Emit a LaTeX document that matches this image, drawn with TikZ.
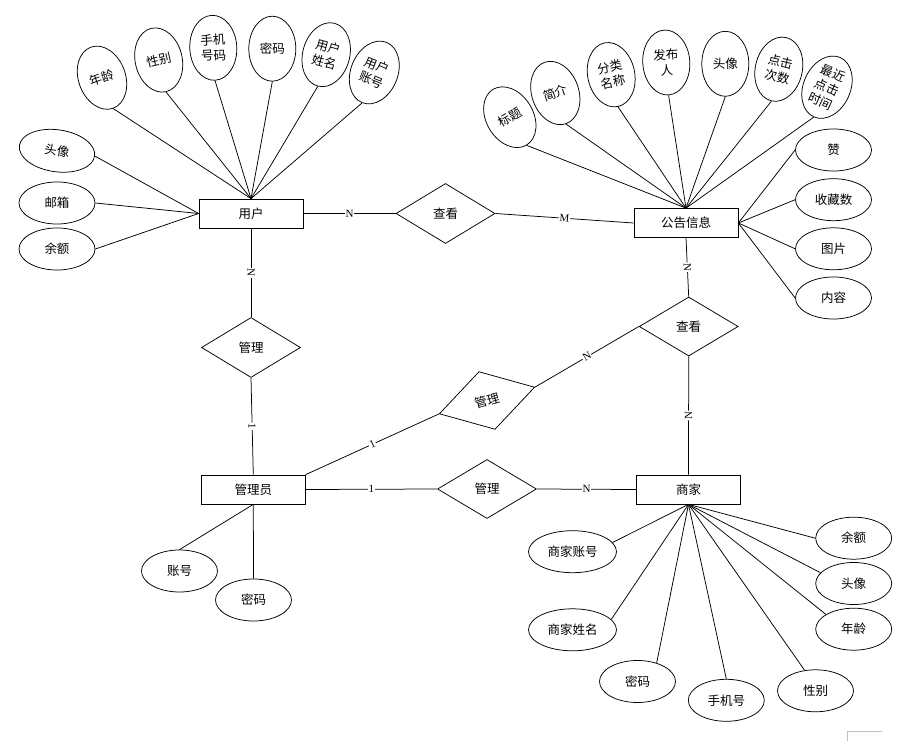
\documentclass[tikz,border=0pt]{standalone}
\usepackage{fontspec}
\setmainfont{Liberation Serif}
\newfontfamily\cjk{Noto Sans CJK SC}
\usepackage{tikz}
\usetikzlibrary{shapes.geometric}
\newcommand{\erfont}{\cjk\fontsize{12.5}{15.5}\selectfont}

\begin{document}
\begin{tikzpicture}[x=1pt, y=-1pt, line width=0.75pt, font=\erfont,
  entity/.style={draw, rectangle, minimum width=104pt, minimum height=29pt, inner sep=0pt},
  relation/.style={draw, diamond, minimum width=99pt, minimum height=60pt, inner sep=0pt},
  attrtall/.style={draw, ellipse, minimum width=47pt, minimum height=65pt, inner sep=0pt, align=center},
  attrwide/.style={draw, ellipse, minimum width=76pt, minimum height=42pt, inner sep=0pt},
  card/.style={fill=white, inner sep=0.8pt, font=\rmfamily\fontsize{11}{11}\selectfont}]
  \useasboundingbox (0,0) rectangle (914,741);
  % entities
  \node[entity] (yonghu) at (251,213.5) {用户};
  \node[entity] (gonggao) at (686,223) {公告信息};
  \node[entity] (guanliyuan) at (253.3,489.5) {管理员};
  \node[entity] (shangjia) at (688.5,489.5) {商家};
  % relationships
  \node[relation] (chakanA) at (445.5,213.5) {查看};
  \node[relation] (guanliA) at (251,347.5) {管理};
  \node[relation, rotate=15.6] (guanliB) at (487,400.5) {管理};
  \node[relation, minimum height=59pt] (guanliC) at (487,489) {管理};
  \node[relation, minimum height=59pt] (chakanB) at (688.7,326.5) {查看};
  % attributes of the user
  \foreach \n/\x/\y/\ang/\txt in {ua/102/77.7/20/年龄, ub/158.7/60/13/性别,
      uc/213.3/47.8/3/{手机\\号码}, ud/272.3/48.7/0/密码,
      ue/326.2/54.7/-15/{用户\\姓名}, uf/374.3/72.5/-22/{用户\\账号}} {
    \node[attrtall, rotate=\ang] (\n) at (\x,\y) {\txt};
    \draw (yonghu.north) -- (\n.south);
  }
  \foreach \n/\y/\ang/\txt in {uh/150.8/-8/头像, ui/203/0/邮箱, uj/249/0/余额} {
    \node[attrwide, rotate=\ang] (\n) at (57,\y) {\txt};
    \draw (yonghu.west) -- (\n.east);
  }
  % attributes of the notice
  \foreach \n/\x/\y/\ang/\txt in {ga/509.8/117.2/31/标题, gb/555.3/93/19/简介,
      gc/611.2/74.7/12/{分类\\名称}, gd/666.3/62.5/4/{发布\\人},
      ge/725.3/63.8/0/头像, gf/778.8/69.2/-13/{点击\\次数},
      gg/827/87.2/-24/{最近\\点击\\时间}} {
    \node[attrtall, rotate=\ang] (\n) at (\x,\y) {\txt};
    \draw (gonggao.north) -- (\n.south);
  }
  \foreach \n/\y/\txt in {gh/150/赞, gi/199.7/收藏数, gj/248.8/图片, gk/298/内容} {
    \node[attrwide] (\n) at (833.5,\y) {\txt};
    \draw (gonggao.east) -- (\n.west);
  }
  % attributes of the merchant
  \foreach \n/\x/\y/\w/\anc/\txt in {sa/572.5/551.7/88/13/商家账号,
      sb/572.5/629.8/88/15/商家姓名, sc/637.5/681.5/76/44/密码,
      sd/726.3/700.3/76/90/手机号, se/815.5/690.8/76/118/性别,
      sf/853.7/538.2/76/180/余额, sg/853.7/583.5/76/162/头像,
      sh/853.7/629.2/76/152/年龄} {
    \node[attrwide, minimum width=\w] (\n) at (\x,\y) {\txt};
    \draw (shangjia.south) -- (\n.\anc);
  }
  % attributes of the admin
  \node[attrwide] (gya) at (179.5,571) {账号};
  \node[attrwide] (gyb) at (253.5,600) {密码};
  \draw (guanliyuan.south) -- (gya.north);
  \draw (guanliyuan.south) -- (gyb.north);
  % links
  \draw (yonghu.east) -- node[card] {N} (chakanA.west);
  \draw (chakanA.east) -- node[card, sloped] {M} (gonggao.west);
  \draw (yonghu.south) -- node[card, sloped] {N} (guanliA.north);
  \draw (guanliA.south) -- node[card, sloped] {1} (guanliyuan.north);
  \draw (guanliyuan.north east) -- node[card, sloped] {1} (guanliB.west);
  \draw (guanliB.east) -- node[card, sloped] {N} (chakanB.west);
  \draw (gonggao.south) -- node[card, sloped] {N} (chakanB.north);
  \draw (chakanB.south) -- node[card, sloped] {N} (shangjia.north);
  \draw (guanliyuan.east) -- node[card] {1} (guanliC.west);
  \draw (guanliC.east) -- node[card] {N} (shangjia.west);
  % page corner mark
  \draw[gray!50, line width=0.6pt] (847,741) -- (847,731) -- (882,731);
\end{tikzpicture}
\end{document}
